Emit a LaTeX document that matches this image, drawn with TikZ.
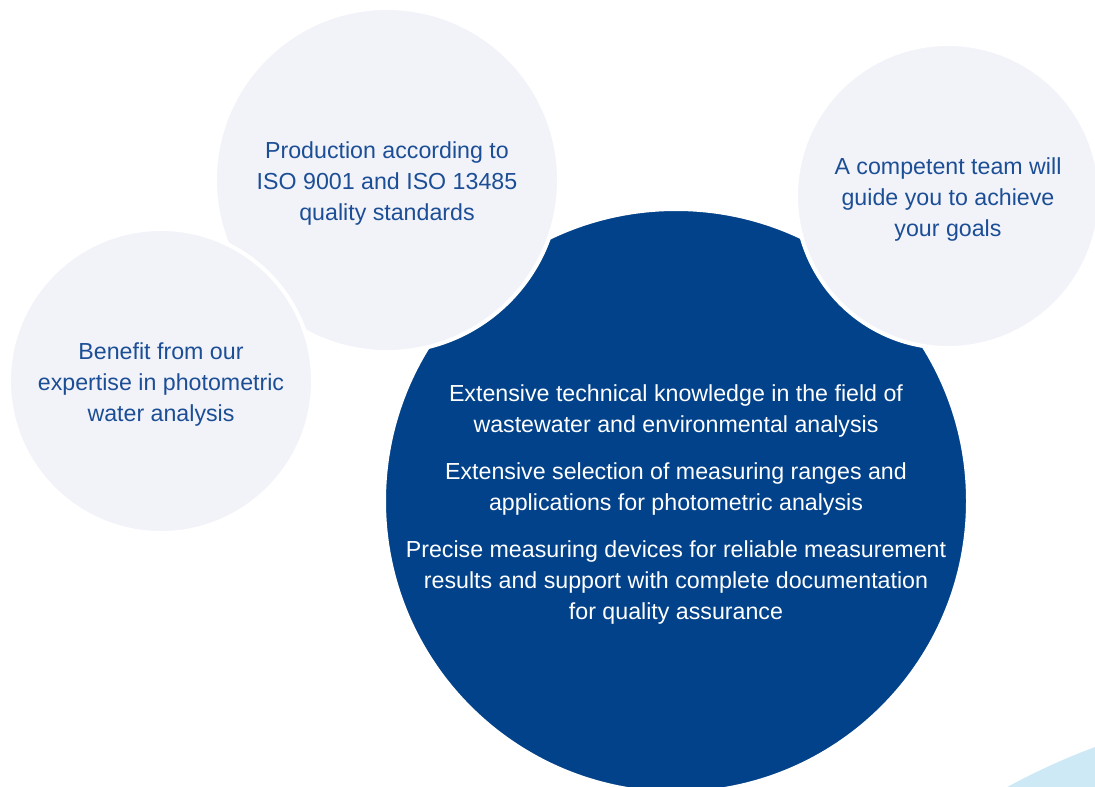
\documentclass[tikz,border=0pt]{standalone}
\usepackage{fontspec}
\setmainfont{Liberation Sans}
\definecolor{paleC}{HTML}{F2F3F9}
\definecolor{deepC}{HTML}{02428A}
\definecolor{skyC}{HTML}{CDE9F6}
\definecolor{inkC}{HTML}{1C4E96}
\tikzset{
  x=1pt,y=-1pt,
  bubble/.style={circle,inner sep=0pt,draw=white,line width=4pt},
  pale/.style={bubble,fill=paleC},
  deep/.style={bubble,fill=deepC},
  txt/.style={align=center,inner sep=0pt,font=\fontsize{23.2}{31}\selectfont},
  paletxt/.style={txt,text=inkC},
  deeptxt/.style={txt,text=white},
}
\begin{document}
\begin{tikzpicture}
\useasboundingbox (0,0) rectangle (1095,787);
\fill[skyC] (1330,1380) circle[radius=675];
\node[deep,minimum size=584] (core) at (676,501) {};
\node[deeptxt] (coretext) at ([yshift=-3.5pt]core.center) {Extensive technical knowledge in the field of\\wastewater and environmental analysis\\[16pt]Extensive selection of measuring ranges and\\applications for photometric analysis\\[16pt]Precise measuring devices for reliable measurement\\results and support with complete documentation\\for quality assurance};
\node[pale,minimum size=344] (iso) at (387,180) {};
\node[paletxt] (isotext) at ([yshift=-3.5pt]iso.center) {Production according to\\ISO 9001 and ISO 13485\\quality standards};
\node[pale,minimum size=304] (benefit) at (161,381) {};
\node[paletxt] (benefittext) at ([yshift=-3.5pt]benefit.center) {Benefit from our\\expertise in photometric\\water analysis};
\node[pale,minimum size=304] (team) at (948,196) {};
\node[paletxt] (teamtext) at ([yshift=-3.5pt]team.center) {A competent team will\\guide you to achieve\\your goals};
\end{tikzpicture}
\end{document}
